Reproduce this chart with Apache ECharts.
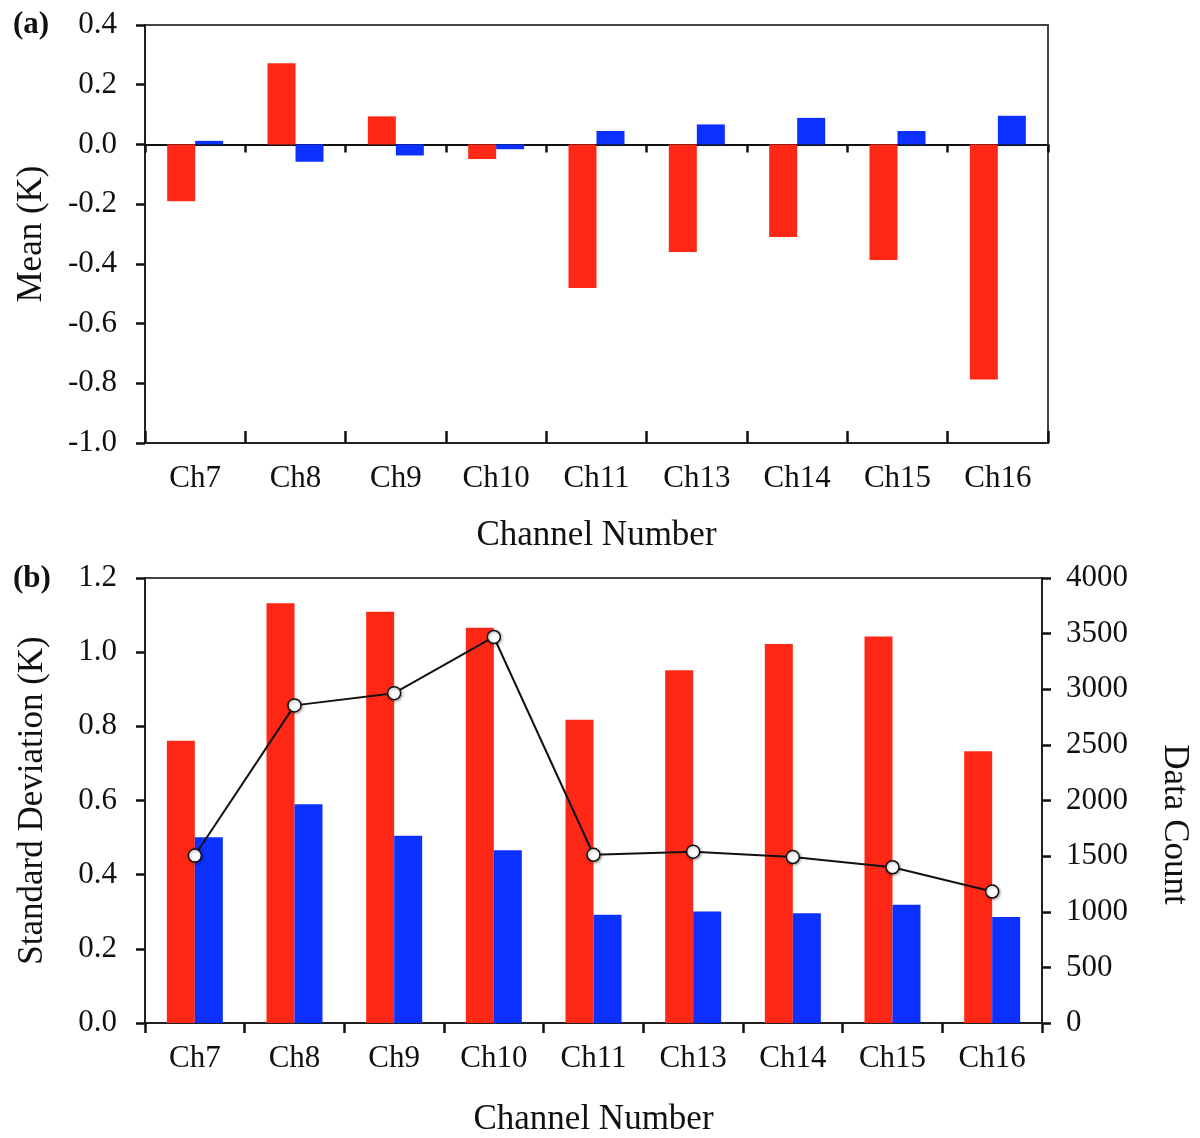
<!DOCTYPE html>
<html>
<head>
<meta charset="utf-8">
<script src="https://cdn.jsdelivr.net/npm/echarts@6/dist/echarts.min.js"></script>
<style>
  html, body { margin: 0; padding: 0; background: #fff; }
  #main { width: 1200px; height: 1138px; }
</style>
</head>
<body>
<div id="main"></div>
<script>
// channel names on both panels
var channels = ['Ch7', 'Ch8', 'Ch9', 'Ch10', 'Ch11', 'Ch13', 'Ch14', 'Ch15', 'Ch16'];
// (a) mean bias
var meanRed = [-0.19, 0.272, 0.094, -0.049, -0.481, -0.36, -0.31, -0.387, -0.787];
var meanBlue = [0.012, -0.058, -0.037, -0.016, 0.045, 0.067, 0.089, 0.045, 0.096];
// (b) standard deviation + data count
var stdRed = [0.761, 1.132, 1.109, 1.066, 0.818, 0.951, 1.022, 1.042, 0.733];
var stdBlue = [0.501, 0.59, 0.505, 0.466, 0.292, 0.301, 0.296, 0.319, 0.286];
var dataCount = [1505, 2855, 2965, 3470, 1512, 1540, 1492, 1400, 1182];

var RED = '#FF2816', BLUE = '#0C30FF';
var FONT = 'Liberation Serif';
var lineStyle = { color: '#222', width: 2 };
var tickStyle = { color: '#111', width: 2.5 };
var tickLabel = { fontFamily: FONT, fontSize: 31, color: '#111' };
var nameStyle = { fontFamily: FONT, fontSize: 35, color: '#111' };

var chart = echarts.init(document.getElementById('main'), null, { renderer: 'canvas' });

var option = {
  animation: false,
  backgroundColor: '#fff',
  title: [
    { text: '(a)', left: 8, top: 4, textStyle: { fontFamily: FONT, fontSize: 31, fontWeight: 'bold', color: '#111' } },
    { text: '(b)', left: 8, top: 558, textStyle: { fontFamily: FONT, fontSize: 31, fontWeight: 'bold', color: '#111' } }
  ],
  grid: [
    { left: 145, right: 152, top: 25, height: 418, show: true, borderColor: '#444', borderWidth: 2 },
    { left: 145, right: 152, top: 578, height: 446, show: true, borderColor: '#444', borderWidth: 2 }
  ],
  xAxis: [
    {
      gridIndex: 0, type: 'category', data: channels, position: 'bottom',
      axisLine: { onZero: false, lineStyle: lineStyle },
      axisTick: { show: true, inside: true, length: 12, lineStyle: tickStyle },
      axisLabel: Object.assign({ margin: 20 }, tickLabel),
      name: 'Channel Number', nameLocation: 'middle', nameGap: 75, nameTextStyle: nameStyle
    },
    {
      // zero line with downward ticks
      gridIndex: 0, type: 'category', data: channels, position: 'top',
      axisLine: { onZero: true, lineStyle: { color: '#111', width: 2 } },
      axisTick: { show: true, inside: true, length: 8, lineStyle: tickStyle },
      axisLabel: { show: false }
    },
    {
      gridIndex: 1, type: 'category', data: channels, position: 'bottom',
      axisLine: { onZero: false, lineStyle: lineStyle },
      axisTick: { show: true, length: 10, lineStyle: tickStyle },
      axisLabel: Object.assign({ margin: 20 }, tickLabel),
      name: 'Channel Number', nameLocation: 'middle', nameGap: 79, nameTextStyle: nameStyle
    }
  ],
  yAxis: [
    {
      gridIndex: 0, type: 'value', min: -1, max: 0.4, interval: 0.2,
      axisLine: { show: true, lineStyle: lineStyle },
      axisTick: { show: true, length: 9, lineStyle: tickStyle },
      splitLine: { show: false },
      axisLabel: Object.assign({ margin: 28, formatter: function (v) { return v.toFixed(1); } }, tickLabel),
      name: 'Mean (K)', nameLocation: 'middle', nameGap: 96, nameTextStyle: nameStyle
    },
    {
      gridIndex: 1, type: 'value', min: 0, max: 1.2, interval: 0.2,
      axisLine: { show: true, lineStyle: lineStyle },
      axisTick: { show: true, length: 9, lineStyle: tickStyle },
      splitLine: { show: false },
      axisLabel: Object.assign({ margin: 28, formatter: function (v) { return v.toFixed(1); } }, tickLabel),
      name: 'Standard Deviation (K)', nameLocation: 'middle', nameGap: 95, nameTextStyle: nameStyle
    },
    {
      gridIndex: 1, type: 'value', position: 'right', min: 0, max: 4000, interval: 500,
      axisLine: { show: true, lineStyle: lineStyle },
      axisTick: { show: true, length: 9, lineStyle: tickStyle },
      splitLine: { show: false },
      axisLabel: Object.assign({ margin: 24, formatter: function (v) { return String(v); } }, tickLabel),
      name: 'Data Count', nameLocation: 'middle', nameRotate: -90, nameGap: 115,
      nameTextStyle: Object.assign({ padding: [0, 0, 0, 48] }, nameStyle)
    }
  ],
  series: [
    { type: 'bar', xAxisIndex: 0, yAxisIndex: 0, data: meanRed, barWidth: 28, barGap: '0%', itemStyle: { color: RED } },
    { type: 'bar', xAxisIndex: 0, yAxisIndex: 0, data: meanBlue, barWidth: 28, barGap: '0%', itemStyle: { color: BLUE } },
    { type: 'bar', xAxisIndex: 2, yAxisIndex: 1, data: stdRed, barWidth: 28, barGap: '0%', itemStyle: { color: RED } },
    { type: 'bar', xAxisIndex: 2, yAxisIndex: 1, data: stdBlue, barWidth: 28, barGap: '0%', itemStyle: { color: BLUE } },
    {
      type: 'line', xAxisIndex: 2, yAxisIndex: 2, data: dataCount, z: 5,
      symbol: 'circle', symbolSize: 13,
      lineStyle: { color: '#111', width: 2 },
      itemStyle: { color: '#fff', borderColor: '#111', borderWidth: 1.5, shadowColor: 'rgba(0,0,0,0.35)', shadowBlur: 3, shadowOffsetX: 1, shadowOffsetY: 1 }
    }
  ]
};

chart.setOption(option);
</script>
</body>
</html>
